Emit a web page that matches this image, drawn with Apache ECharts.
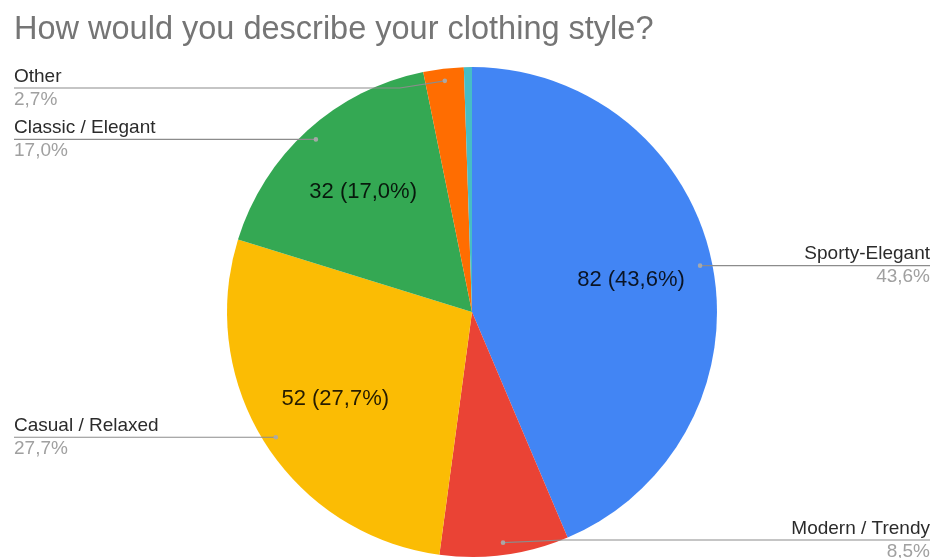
<!DOCTYPE html>
<html>
<head>
<meta charset="utf-8">
<script src="https://cdn.jsdelivr.net/npm/echarts@6/dist/echarts.min.js"></script>
<style>
  html, body { margin: 0; padding: 0; background: #ffffff; }
  #chart { width: 933px; height: 558px; }
</style>
</head>
<body>
<div id="chart"></div>
<script>
// Survey answers: "How would you describe your clothing style?"
const categories = ['Sporty-Elegant', 'Modern / Trendy', 'Casual / Relaxed', 'Classic / Elegant', 'Other', 'No answer'];
const counts = [82, 16, 52, 32, 5, 1];
const sliceColors = ['#4285F4', '#EA4335', '#FBBC04', '#34A853', '#FF6D01', '#46BDC6'];
const showOuterLabel = [true, true, true, true, true, false];
const showInnerLabel = [true, false, true, true, false, false];

// Layout constants
const FONT = '"Liberation Sans", Arial, Helvetica, sans-serif';
const CX = 472, CY = 312, R = 245;
const DOT_R = R * 0.95;          // where the leader lines start
const LEFT_EDGE = 14, RIGHT_EDGE = 930;
const LABEL_Y_MIN = 88, LABEL_Y_MAX = 540;

const total = counts.reduce((a, b) => a + b, 0);
const pct = v => (v / total * 100).toFixed(1).replace('.', ',') + '%';

// Mid angle of each slice, clockwise from 12 o'clock
const midAngles = [];
let acc = 0;
counts.forEach(v => { midAngles.push((acc + v / 2) / total * 2 * Math.PI); acc += v; });
const dotPos = i => [CX + DOT_R * Math.sin(midAngles[i]), CY - DOT_R * Math.cos(midAngles[i])];

const chart = echarts.init(document.getElementById('chart'), null, { renderer: 'canvas' });

const baseData = categories.map((name, i) => ({
  name: name,
  value: counts[i],
  itemStyle: { color: sliceColors[i] }
}));

chart.setOption({
  backgroundColor: '#ffffff',
  animation: false,
  title: {
    text: 'How would you describe your clothing style?',
    left: 14,
    top: 14,
    padding: 0,
    textStyle: { fontFamily: FONT, fontSize: 32.5, fontWeight: 'normal', color: '#757575' }
  },
  series: [
    // Visible slices
    {
      type: 'pie',
      z: 1,
      center: [CX, CY],
      radius: R,
      startAngle: 90,
      clockwise: true,
      silent: true,
      label: { show: false },
      labelLine: { show: false },
      itemStyle: { borderWidth: 0 },
      data: baseData
    },
    // Value labels inside the larger slices
    {
      type: 'pie',
      z: 3,
      center: [CX, CY],
      radius: [R * 0.3, R],
      startAngle: 90,
      clockwise: true,
      silent: true,
      itemStyle: { color: 'rgba(0,0,0,0)' },
      label: {
        show: true,
        position: 'inside',
        fontFamily: FONT,
        fontSize: 22,
        color: 'rgba(0,0,0,0.85)',
        formatter: p => showInnerLabel[p.dataIndex] ? p.value + ' (' + pct(p.value) + ')' : ''
      },
      labelLine: { show: false },
      data: categories.map((name, i) => ({ name: name, value: counts[i] }))
    },
    // Category names with leader lines
    {
      type: 'pie',
      z: 4,
      center: [CX, CY],
      radius: DOT_R,
      startAngle: 90,
      clockwise: true,
      silent: true,
      itemStyle: { color: 'rgba(0,0,0,0)' },
      label: {
        show: true,
        position: 'outside',
        formatter: p => '{n|' + p.name + '}\n{p|' + pct(p.value) + '}',
        rich: {
          n: { fontFamily: FONT, fontSize: 19, color: '#2b2b2b', lineHeight: 23 },
          p: { fontFamily: FONT, fontSize: 19, color: '#a0a0a0', lineHeight: 23 }
        }
      },
      labelLine: {
        show: true,
        length: 10,
        length2: 10,
        lineStyle: { color: '#8c8c8c', width: 1.2 }
      },
      labelLayout: function (p) {
        const i = p.dataIndex;
        const [dx, dy] = dotPos(i);
        const left = dx < CX;
        const y = Math.min(Math.max(dy, LABEL_Y_MIN), LABEL_Y_MAX);
        const edgeX = left ? LEFT_EDGE : RIGHT_EDGE;
        const kneeX = Math.abs(y - dy) > 0.5 ? dx + (left ? -45 : 60) : dx;
        return {
          x: edgeX,
          y: y,
          align: left ? 'left' : 'right',
          verticalAlign: 'middle',
          labelLinePoints: [[dx, dy], [kneeX, y], [edgeX, y]]
        };
      },
      data: categories.map((name, i) => ({
        name: name,
        value: counts[i],
        label: { show: showOuterLabel[i] },
        labelLine: { show: showOuterLabel[i] }
      }))
    },
    // Anchor dots at the start of each leader line
    {
      type: 'custom',
      coordinateSystem: 'none',
      silent: true,
      z: 5,
      data: counts.map((v, i) => [i, v]),
      renderItem: function (params) {
        const i = params.dataIndex;
        if (!showOuterLabel[i]) return null;
        const [x, y] = dotPos(i);
        return {
          type: 'circle',
          shape: { cx: x, cy: y, r: 2.3 },
          style: { fill: 'rgba(170,170,170,0.95)' }
        };
      }
    }
  ]
});
</script>
</body>
</html>
